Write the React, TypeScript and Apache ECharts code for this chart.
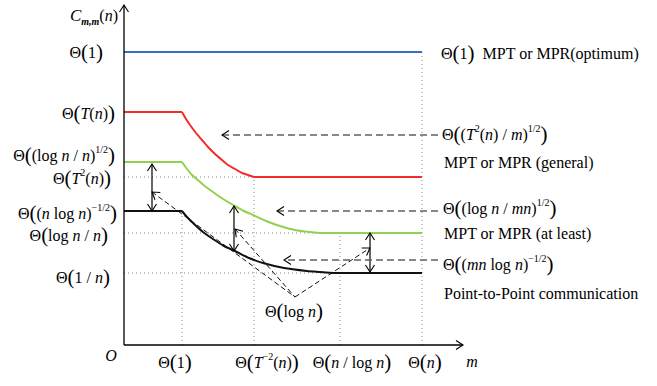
import React, { useEffect, useRef } from "react";
import * as echarts from "echarts";

// ---- data (chart units: x 0..339, y 0..340) ----
const xTickValues = [58, 130, 216, 298];
const xTickLabels = [
  "{t|Θ}{P|(}{r|1}{P|)}",
  "{t|Θ}{P|(}{i|T}{s|−2}{r|(}{i|n}{r|)}{P|)}",
  "{t|Θ}{P|(}{i|n}{r| / log }{i|n}{P|)}",
  "{t|Θ}{P|(}{i|n}{P|)}",
];
const yAxisTitle = "{c|C}{b|m,m}{r|(}{i|n}{r|)}";
const xAxisTitle = "{i|m}";
const originLabel = "{i|O}";
const yTickLabels = [
  "{t|Θ}{P|(}{r|1}{P|)}",
  "{t|Θ}{P|(}{i|T}{r|(}{i|n}{r|)}{P|)}",
  "{t|Θ}{P|(}{r|(log }{i|n}{r| / }{i|n}{r|)}{s|1/2}{P|)}",
  "{t|Θ}{P|(}{i|T}{s|2}{r|(}{i|n}{r|)}{P|)}",
  "{t|Θ}{P|(}{r|(}{i|n}{r| log }{i|n}{r|)}{s|−1/2}{P|)}",
  "{t|Θ}{P|(}{r|log }{i|n}{r| / }{i|n}{P|)}",
  "{t|Θ}{P|(}{r|1 / }{i|n}{P|)}",
];
const seriesLabels = [
  "{t|Θ}{P|(}{r|1}{P|)}{r|  MPT or MPR(optimum)}",
  "{t|Θ}{P|(}{r|(}{i|T}{s|2}{r|(}{i|n}{r|) / }{i|m}{r|)}{s|1/2}{P|)}",
  "{r|MPT or MPR (general)}",
  "{t|Θ}{P|(}{r|(log }{i|n}{r| / }{i|mn}{r|)}{s|1/2}{P|)}",
  "{r|MPT or MPR (at least)}",
  "{t|Θ}{P|(}{r|(}{i|mn}{r| log }{i|n}{r|)}{s|−1/2}{P|)}",
  "{r|Point-to-Point communication}",
];
const gapLabel = "{t|Θ}{P|(}{r|log }{i|n}{P|)}";

const optimumLevel = 293;
const rightEnd = 298;
const redCurve = [[58, 233], [62, 226], [66, 220], [72, 212], [78, 205], [84, 198], [91, 191], [98, 185], [104, 180], [111, 176], [118, 172], [124, 170], [130, 168]];
const greenCurve = [[58, 183], [63, 176], [68, 170], [75, 164], [82, 158], [89, 153], [96, 148], [104, 143], [111, 139], [120, 134], [129, 130], [142, 124], [156, 119], [171, 115], [186, 113], [198, 112], [209, 112]];
const blackCurve = [[58, 134], [63, 128], [69, 122], [79, 113], [89, 106], [100, 99], [111, 94], [125, 87], [139, 82], [160, 77], [183, 74], [196, 73], [209, 72]];

// dotted guides
const guideVerticals = [[58, 134], [130, 168], [216, 112], [298, 293]]; // x, top
const guideHorizontals = [[168, 130], [112, 216], [72, 209]]; // y, right end
// double-headed gap arrows: x, yTop, yBottom
const gapArrows = [[28, 181, 134], [110, 139, 94], [246, 112, 73]];
// dashed pointer arrows: y, xTail, xHead
const upperPointer = [[210, 314, 98]];
const lowerPointers = [[134, 314, 153], [85, 314, 160]];
// dashed "V" lines: x1, y1, x2, y2, headAtStart, headAtEnd
const vLines = [[28, 153, 171, 48, 1, 0], [111, 116, 171, 48, 1, 0], [171, 48, 246, 97, 0, 1]];
const axisSegments = [[0, 0, 339, 0, 0, 1], [0, 0, 0, 340, 0, 1]];

const FONT = "Liberation Serif";
const rich = {
  t: { fontFamily: FONT, fontSize: 16, lineHeight: 22 },
  P: { fontFamily: FONT, fontSize: 21, lineHeight: 22 },
  r: { fontFamily: FONT, fontSize: 16, lineHeight: 22 },
  i: { fontFamily: FONT, fontSize: 16, lineHeight: 22, fontStyle: "italic" },
  c: { fontFamily: FONT, fontSize: 17, lineHeight: 22, fontStyle: "italic" },
  s: { fontFamily: FONT, fontSize: 10, lineHeight: 13, verticalAlign: "top" },
  b: { fontFamily: FONT, fontSize: 10, lineHeight: 12, fontStyle: "italic", fontWeight: "bold", verticalAlign: "bottom" },
};

function segSeries(name: string, data: number[][], stroke: string, width: number, dash: number[] | null, z: number) {
  return {
    type: "custom",
    name,
    coordinateSystem: "cartesian2d",
    data,
    silent: true,
    clip: false,
    z,
    encode: { x: [0, 2], y: [1, 3] },
    renderItem: (_p: any, api: any) => {
      const a = api.coord([api.value(0), api.value(1)]);
      const b = api.coord([api.value(2), api.value(3)]);
      const children: any[] = [
        {
          type: "line",
          shape: { x1: a[0], y1: a[1], x2: b[0], y2: b[1] },
          style: { stroke, lineWidth: width, lineDash: dash || undefined, fill: null },
        },
      ];
      const head = (tip: number[], from: number[]) => {
        const dx = tip[0] - from[0];
        const dy = tip[1] - from[1];
        const len = Math.hypot(dx, dy) || 1;
        const ux = dx / len;
        const uy = dy / len;
        const L = 7;
        const W = 4.5;
        return {
          type: "polyline",
          shape: {
            points: [
              [tip[0] - ux * L - uy * W, tip[1] - uy * L + ux * W],
              [tip[0], tip[1]],
              [tip[0] - ux * L + uy * W, tip[1] - uy * L - ux * W],
            ],
          },
          style: { stroke: "#000", lineWidth: 1.1, fill: null },
        };
      };
      if (api.value(4)) children.push(head(a, b));
      if (api.value(5)) children.push(head(b, a));
      return { type: "group", children };
    },
  };
}

function lineSeries(data: number[][], color: string, smooth: number) {
  return {
    type: "line",
    data,
    showSymbol: false,
    symbol: "none",
    smooth,
    silent: true,
    z: 5,
    lineStyle: { color, width: 2 },
  };
}

function curveSeries(curve: number[][], color: string) {
  const first = curve[0];
  const last = curve[curve.length - 1];
  return [
    lineSeries([[0, first[1]], first], color, 0),
    lineSeries(curve, color, 0.2),
    lineSeries([last, [rightEnd, last[1]]], color, 0),
  ];
}

function text(x: number, y: number, t: string, align: string) {
  return {
    type: "text",
    x,
    y,
    silent: true,
    style: { text: t, rich, align, verticalAlign: "middle", fontFamily: FONT, fontSize: 16, fill: "#000" },
  };
}

function buildOption() {
  const yLabelPos = [[103, 52], [115, 113], [115, 155], [111, 178], [117, 213], [108, 235], [110, 277]];
  const xLabelCenters = [175, 267, 352, 425];
  const rightPos = [[441, 53], [442, 134], [444, 162], [443, 208], [444, 233], [443, 264], [444, 293]];
  const graphics: any[] = [];
  yTickLabels.forEach((t, k) => graphics.push(text(yLabelPos[k][0], yLabelPos[k][1], t, "right")));
  xTickLabels.forEach((t, k) => graphics.push(text(xLabelCenters[k], 362, t, "center")));
  seriesLabels.forEach((t, k) => graphics.push(text(rightPos[k][0], rightPos[k][1], t, "left")));
  graphics.push(text(118, 15, yAxisTitle, "right"));
  graphics.push(text(472, 361, xAxisTitle, "center"));
  graphics.push(text(111, 355, originLabel, "center"));
  graphics.push(text(294, 311, gapLabel, "center"));

  const dottedData = [
    ...guideVerticals.map(([x, top]) => [x, 0, x, top, 0, 0]),
    ...guideHorizontals.map(([y, right]) => [0, y, right, y, 0, 0]),
  ];
  const gapData = gapArrows.map(([x, y1, y2]) => [x, y1, x, y2, 1, 1]);
  const toPointer = ([y, x1, x2]: number[]) => [x1, y, x2, y, 0, 1];

  return {
    animation: false,
    backgroundColor: "#fff",
    grid: { left: 124, top: 5, width: 339, height: 340, containLabel: false },
    xAxis: { type: "value", min: 0, max: 339, show: false },
    yAxis: { type: "value", min: 0, max: 340, show: false },
    graphic: graphics,
    series: [
      segSeries("guides", dottedData, "#8a8a8a", 1, [1, 3], 1),
      lineSeries([[0, optimumLevel], [rightEnd, optimumLevel]], "#3A6EC0", 0),
      ...curveSeries(redCurve, "#F52A2A"),
      ...curveSeries(greenCurve, "#92D050"),
      ...curveSeries(blackCurve, "#111111"),
      segSeries("axes", axisSegments, "#000", 1.3, null, 6),
      segSeries("gaps", gapData, "#000", 1.2, null, 7),
      segSeries("pointerUpper", upperPointer.map(toPointer), "#111", 1.2, [7, 4], 7),
      segSeries("pointersLower", lowerPointers.map(toPointer), "#606060", 1.3, [7, 4], 7),
      segSeries("v", vLines, "#111", 1, [5, 3], 7),
    ],
  };
}

export default function App() {
  const ref = useRef<HTMLDivElement>(null);
  useEffect(() => {
    const chart = echarts.init(ref.current!, null, { renderer: "svg" });
    chart.setOption(buildOption() as any);
    return () => chart.dispose();
  }, []);
  return (
    <div
      ref={ref}
      style={{ position: "fixed", left: 0, top: 0, width: 657, height: 386, background: "#fff" }}
    />
  );
}
